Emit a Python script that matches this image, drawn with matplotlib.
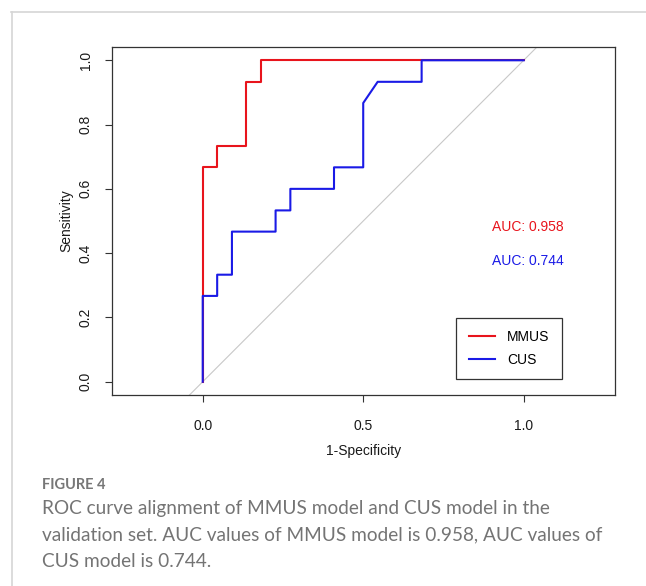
import matplotlib.pyplot as plt
from matplotlib.lines import Line2D

# ROC points (validation set)
mmus_fpr = [0.0, 0.0, 0.045, 0.045, 0.136, 0.136, 0.182, 0.182, 1.0]
mmus_tpr = [0.0, 0.667, 0.667, 0.733, 0.733, 0.933, 0.933, 1.0, 1.0]
cus_fpr = [0.0, 0.0, 0.045, 0.045, 0.091, 0.091, 0.227, 0.227, 0.273, 0.273,
           0.409, 0.409, 0.5, 0.5, 0.545, 0.682, 0.682, 1.0]
cus_tpr = [0.0, 0.267, 0.267, 0.333, 0.333, 0.467, 0.467, 0.533, 0.533, 0.6,
           0.6, 0.667, 0.667, 0.867, 0.933, 0.933, 1.0, 1.0]
auc_mmus = 0.958
auc_cus = 0.744
labels = ['MMUS', 'CUS']
xticks = [0.0, 0.5, 1.0]
yticks = [0.0, 0.2, 0.4, 0.6, 0.8, 1.0]

plt.rcParams['font.family'] = ['Liberation Sans', 'DejaVu Sans']

fig = plt.figure(figsize=(6.46, 5.86), dpi=100)
ax = fig.add_axes([0.1734, 0.3259, 0.7786, 0.5939])

ax.plot([-0.1, 1.1], [-0.1, 1.1], color='#c8c8c8', lw=0.8)
ax.plot(mmus_fpr, mmus_tpr, color='#e8141c', lw=1.5, label=labels[0])
ax.plot(cus_fpr, cus_tpr, color='#1a1ae6', lw=1.5, label=labels[1])

ax.set_xlim(-0.2826, 1.2844)
ax.set_ylim(-0.0413, 1.0413)
ax.set_xticks(xticks)
ax.set_xticklabels(['%.1f' % v for v in xticks])
ax.set_yticks(yticks)
ax.set_yticklabels(['%.1f' % v for v in yticks], rotation=90, va='center')
ax.tick_params(length=5, width=0.8, color='#333333', labelsize=10,
               labelcolor='#1a1a1a')
ax.tick_params(axis='x', pad=12)
ax.tick_params(axis='y', pad=9)
for s in ax.spines.values():
    s.set_linewidth(0.9)
    s.set_color('#333333')

ax.set_xlabel('1-Specificity', fontsize=10, color='#1a1a1a')
ax.set_ylabel('Sensitivity', fontsize=10, color='#1a1a1a')
ax.xaxis.set_label_coords(0.5, -0.161)
ax.xaxis.label.set_va('center')
ax.yaxis.set_label_coords(-0.0915, 0.5)
ax.yaxis.label.set_va('center')

ax.text(0.9026, 0.481, 'AUC: %.3f' % auc_mmus, color='#e8141c', fontsize=10,
        va='center', ha='left')
ax.text(0.9026, 0.376, 'AUC: %.3f' % auc_cus, color='#1a1ae6', fontsize=10,
        va='center', ha='left')

leg = ax.legend(loc='lower right', bbox_to_anchor=(0.894, 0.046), borderaxespad=0,
                fancybox=False, edgecolor='#333333', framealpha=1, fontsize=10,
                handlelength=1.9, handletextpad=0.85, borderpad=0.9,
                labelspacing=0.6)
leg.get_frame().set_linewidth(0.9)

# card border of the journal figure
fig.add_artist(Line2D([0.017, 1.0], [0.9795, 0.9795], color='#d6d6d6', lw=1.2))
fig.add_artist(Line2D([0.018, 0.018], [0.0, 0.9795], color='#d6d6d6', lw=1.2))

cap_font = ['Lato', 'DejaVu Sans']
fig.text(0.0646, 0.1732, 'FIGURE 4', fontsize=10.5, color='#777777',
         fontweight='bold', family=cap_font, va='center')
caption = ['ROC curve alignment of MMUS model and CUS model in the',
           'validation set. AUC values of MMUS model is 0.958, AUC values of',
           'CUS model is 0.744.']
for i, line in enumerate(caption):
    fig.text(0.0646, 1 - (508.7 + 26.2 * i) / 586, line, fontsize=13.7,
             color='#747474', family=cap_font, va='center')

fig.savefig('out.png', dpi=100)
